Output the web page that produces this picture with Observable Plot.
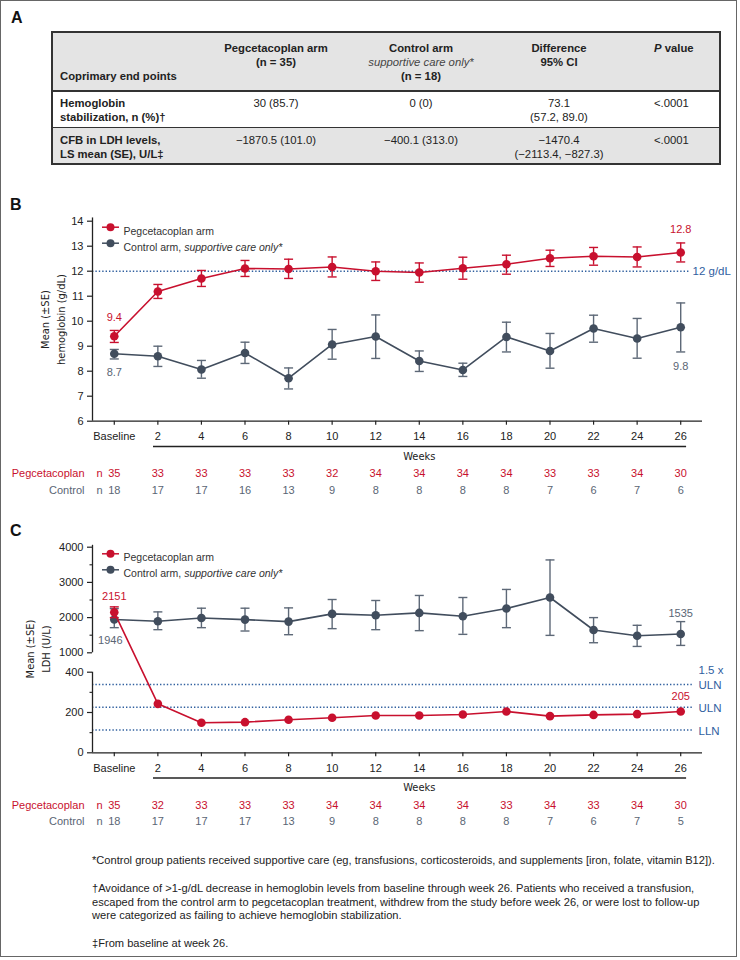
<!DOCTYPE html>
<html><head><meta charset="utf-8">
<script src="https://cdn.jsdelivr.net/npm/d3@7"></script>
<script src="https://cdn.jsdelivr.net/npm/@observablehq/plot@0.6"></script>
<style>
body{margin:0;background:#fff;}
#fig{position:relative;width:740px;height:960px;font-family:"Liberation Sans",Arial,Helvetica,sans-serif;color:#222;overflow:hidden;}
#border{position:absolute;left:0;top:0;width:735px;height:955px;border:1.5px solid #666;}
.abs{position:absolute;white-space:nowrap;}
.panel{position:absolute;font-weight:bold;font-size:16px;color:#111;}
.cell{position:absolute;white-space:nowrap;font-size:11.3px;line-height:14px;height:14px;}
.plot{position:absolute;left:0;}
.fn{position:absolute;left:92px;font-size:11.1px;line-height:13.7px;color:#222;white-space:nowrap;}
</style></head>
<body><div id="fig"><div id="border"></div></div>
<script>
// ---------- Table A ----------
const tableHeaders = [
  ["Coprimary end points"],
  ["Pegcetacoplan arm", "(n = 35)"],
  ["Control arm", "supportive care only*", "(n = 18)"],
  ["Difference", "95% CI"],
  ["P value"]
];
const tableRowLabels = [["Hemoglobin", "stabilization, n (%)†"], ["CFB in LDH levels,", "LS mean (SE), U/L‡"]];
const tableRowPeg = ["30 (85.7)", "−1870.5 (101.0)"];
const tableRowCtl = ["0 (0)", "−400.1 (313.0)"];
const tableRowDiff = [["73.1", "(57.2, 89.0)"], ["−1470.4", "(−2113.4, −827.3)"]];
const tableRowP = ["<.0001", "<.0001"];

// ---------- Chart data ----------
const weeks = [0, 2, 4, 6, 8, 10, 12, 14, 16, 18, 20, 22, 24, 26];
const weekLabels = ["Baseline", "2", "4", "6", "8", "10", "12", "14", "16", "18", "20", "22", "24", "26"];

// Panel B: hemoglobin (g/dL)
const hbPegMean = [9.4, 11.19, 11.71, 12.11, 12.09, 12.17, 12.0, 11.95, 12.12, 12.28, 12.52, 12.6, 12.57, 12.75];
const hbPegLow  = [9.15, 10.91, 11.39, 11.79, 11.71, 11.77, 11.63, 11.56, 11.68, 11.88, 12.19, 12.24, 12.17, 12.37];
const hbPegHigh = [9.63, 11.47, 12.03, 12.43, 12.48, 12.57, 12.37, 12.33, 12.56, 12.64, 12.84, 12.95, 12.97, 13.13];
const hbCtlMean = [8.7, 8.6, 8.07, 8.73, 7.72, 9.07, 9.39, 8.41, 8.05, 9.37, 8.81, 9.71, 9.31, 9.76];
const hbCtlLow  = [8.49, 8.19, 7.72, 8.31, 7.29, 8.48, 8.51, 7.99, 7.79, 8.77, 8.12, 9.16, 8.52, 8.77];
const hbCtlHigh = [8.87, 9.0, 8.43, 9.16, 8.13, 9.67, 10.25, 8.81, 8.32, 9.96, 9.51, 10.24, 10.11, 10.73];
const hbTicks = [6, 7, 8, 9, 10, 11, 12, 13, 14];
const hbTarget = [12];
const hbTargetLabel = "12 g/dL";
const hbAnnPeg = ["9.4", "12.8"];
const hbAnnCtl = ["8.7", "9.8"];
const nPegB = [35, 33, 33, 33, 33, 32, 34, 34, 34, 34, 33, 33, 34, 30];
const nCtlB = [18, 17, 17, 16, 13, 9, 8, 8, 8, 8, 7, 6, 7, 6];

// Panel C: LDH (U/L)
const ldhPegMean = [2151, 243, 149, 152, 164, 174, 185, 185, 190, 205, 182, 188, 192, 205];
const ldhPegLow  = [2000, null, null, null, null, null, null, null, null, null, null, null, null, null];
const ldhPegHigh = [2305, null, null, null, null, null, null, null, null, null, null, null, null, null];
const ldhCtlMean = [1946, 1895, 1990, 1943, 1886, 2105, 2067, 2133, 2038, 2257, 2571, 1648, 1486, 1535];
const ldhCtlLow  = [1714, 1657, 1714, 1619, 1514, 1686, 1657, 1629, 1524, 1714, 1495, 1286, 1181, 1210];
const ldhCtlHigh = [2257, 2162, 2267, 2267, 2276, 2514, 2486, 2629, 2571, 2800, 3638, 2000, 1781, 1886];
const ldhTicks = [0, 200, 400, 1000, 2000, 3000, 4000];
const ldhMinorTicks = [100, 300, 1500, 2500, 3500];
const ldhRefValues = [339, 226, 113];
const ldhRefLabels = ["1.5 x\nULN", "ULN", "LLN"];
const ldhAnnPeg = ["2151", "205"];
const ldhAnnCtl = ["1946", "1535"];
const nPegC = [35, 32, 33, 33, 33, 34, 34, 34, 34, 33, 34, 33, 34, 30];
const nCtlC = [18, 17, 17, 17, 13, 9, 8, 8, 8, 8, 7, 6, 7, 5];

const legendLabels = ["Pegcetacoplan arm", "Control arm, supportive care only*"];
const rowNames = ["Pegcetacoplan", "Control"];

const footnotes = [
  "*Control group patients received supportive care (eg, transfusions, corticosteroids, and supplements [iron, folate, vitamin B12]).",
  "†Avoidance of >1-g/dL decrease in hemoglobin levels from baseline through week 26. Patients who received a transfusion,<br>escaped from the control arm to pegcetacoplan treatment, withdrew from the study before week 26, or were lost to follow-up<br>were categorized as failing to achieve hemoglobin stabilization.",
  "‡From baseline at week 26."
];

// ---------- Styles ----------
const red = "#c8102e", slate = "#414d5d", slateBar = "#5d6877", slateText = "#5a6574", blue = "#30609f";
const font = "'Liberation Sans', Arial, Helvetica, sans-serif";
const narrow = "'Liberation Sans Narrow', 'Arial Narrow', 'DejaVu Sans Condensed', 'Liberation Sans', sans-serif";
const fig = document.getElementById("fig");

function addDiv(cls, left, top, html, style = "") {
  const d = document.createElement("div");
  d.className = cls;
  d.style.cssText = `left:${left}px;top:${top}px;` + style;
  d.innerHTML = html;
  fig.appendChild(d);
  return d;
}

// ---------- Draw table ----------
const T = {left: 52, right: 720, top: 32.3, head: 90.7, r1: 127.3, bottom: 164.3};
addDiv("abs", T.left, T.top, "", `width:${T.right - T.left}px;height:${T.head - T.top}px;background:#e4e4e4;`);
addDiv("abs", T.left, T.r1, "", `width:${T.right - T.left}px;height:${T.bottom - T.r1}px;background:#e4e4e4;`);
[[T.top, 2], [T.head, 2], [T.r1, 1.5], [T.bottom, 2]].forEach(([y, w]) =>
  addDiv("abs", T.left, y - w / 2, "", `width:${T.right - T.left}px;height:${w}px;background:#333;`));
[T.left, T.right].forEach(x => addDiv("abs", x - 1, T.top - 1, "", `width:2px;height:${T.bottom - T.top + 2}px;background:#333;`));

function cellText(text, cx, cy, opts = {}) {
  const anchor = opts.anchor || "middle";
  const tr = anchor === "middle" ? "translateX(-50%)" : "";
  addDiv("cell", cx, cy - 7, text, `transform:${tr};font-weight:${opts.bold ? "bold" : "normal"};font-style:${opts.italic ? "italic" : "normal"};color:${opts.color || "#222"};`);
}
const colX = [60, 276, 421, 559, 654];
const headY = [48, 62, 76];
cellText(tableHeaders[0][0], colX[0], headY[2], {anchor: "start", bold: true});
tableHeaders[1].forEach((t, i) => cellText(t, colX[1], headY[i], {bold: true}));
cellText(tableHeaders[2][0], colX[2], headY[0], {bold: true});
cellText(tableHeaders[2][1], colX[2], headY[1], {italic: true, color: "#444"});
cellText(tableHeaders[2][2], colX[2], headY[2], {bold: true});
tableHeaders[3].forEach((t, i) => cellText(t, colX[3], headY[i], {bold: true}));
cellText(tableHeaders[4][0].replace(/^P/, "<i>P</i>"), colX[4], headY[0], {anchor: "start", bold: true});
const rowY = [[102.5, 116.5], [139.5, 153.5]];
tableRowLabels.forEach((lines, r) => {
  lines.forEach((t, i) => cellText(t, colX[0], rowY[r][i], {anchor: "start", bold: true}));
  cellText(tableRowPeg[r], colX[1], rowY[r][0]);
  cellText(tableRowCtl[r], colX[2], rowY[r][0]);
  tableRowDiff[r].forEach((t, i) => cellText(t, colX[3], rowY[r][i]));
  cellText(tableRowP[r].replace("<", "&lt;"), colX[4], rowY[r][0], {anchor: "start"});
});

// ---------- Panel letters ----------
addDiv("panel", 11, 9, "A");
addDiv("panel", 10, 196, "B");
addDiv("panel", 10, 522, "C");

// ---------- Helpers ----------
const capSymbol = {draw(ctx) { ctx.moveTo(-4.5, 0); ctx.lineTo(4.5, 0); }};
const legendLine = {draw(ctx) { ctx.moveTo(-8.5, 0); ctx.lineTo(8.5, 0); }};
const tickSymbol = {draw(ctx) { ctx.moveTo(-3, 0); ctx.lineTo(0, 0); }};
function rows(mean, low, high) {
  return weeks.map((w, i) => ({week: w, mean: mean[i], low: low[i], high: high[i]}));
}
function seriesMarks(data, yf, color, barColor) {
  const bars = data.filter(d => d.low != null && d.high != null);
  return [
    Plot.ruleX(bars, {x: "week", y1: d => yf(d.low), y2: d => yf(d.high), stroke: barColor, strokeWidth: 1.4}),
    Plot.dot(bars, {x: "week", y: d => yf(d.low), symbol: capSymbol, stroke: barColor, fill: "none", strokeWidth: 1.4}),
    Plot.dot(bars, {x: "week", y: d => yf(d.high), symbol: capSymbol, stroke: barColor, fill: "none", strokeWidth: 1.4}),
    Plot.line(data, {x: "week", y: d => yf(d.mean), stroke: color, strokeWidth: 1.6}),
    Plot.dot(data, {x: "week", y: d => yf(d.mean), r: 4.3, fill: color, stroke: "none"})
  ];
}
function legendMarks(dy1, dy2) {
  const m = [];
  [[red, dy1, legendLabels[0]], [slate, dy2, legendLabels[1]]].forEach(([c, dy, t]) => {
    m.push(Plot.dot([t], {frameAnchor: "top-left", dx: 18, dy, symbol: legendLine, stroke: c, strokeWidth: 1.5, fill: "none"}));
    m.push(Plot.dot([t], {frameAnchor: "top-left", dx: 18, dy, r: 4, fill: c, stroke: "none"}));
    m.push(Plot.text([t], {frameAnchor: "top-left", dx: 31, dy, text: d => d, textAnchor: "start", fontSize: 10.5, fill: "#333"}));
  });
  return m;
}
function bottomMarks(yBase, nPeg, nCtl) {
  const mid = (weeks[1] + weeks[weeks.length - 1]) / 2;
  return [
    Plot.axisX(weeks, {tickFormat: d => weekLabels[weeks.indexOf(d)], tickSize: 4, tickPadding: 7, fontSize: 11, label: null, stroke: "#222", strokeWidth: 1.2}),
    Plot.ruleY([yBase], {x1: weeks[1] - 0.2, x2: weeks[weeks.length - 1] + 0.27, dy: 25.3, stroke: "#222", strokeWidth: 1.5}),
    Plot.text(["Weeks"], {x: () => mid, frameAnchor: "bottom", dy: 38.3, text: d => d, fontSize: 11, fontFamily: narrow, fill: "#222"}),
    Plot.text(weeks, {x: d => d, text: (d, i) => String(nPeg[i]), frameAnchor: "bottom", dy: 56, fill: red, fontSize: 11}),
    Plot.text(weeks, {x: d => d, text: (d, i) => String(nCtl[i]), frameAnchor: "bottom", dy: 72.6, fill: slateText, fontSize: 11}),
    Plot.text([rowNames[0]], {frameAnchor: "bottom-left", dx: -8, dy: 56, text: d => d, textAnchor: "end", fill: red, fontSize: 11}),
    Plot.text([rowNames[1]], {frameAnchor: "bottom-left", dx: -8, dy: 72.6, text: d => d, textAnchor: "end", fill: slateText, fontSize: 11}),
    Plot.text(["n"], {frameAnchor: "bottom-left", dx: 4, dy: 56, text: d => d, fill: red, fontSize: 11}),
    Plot.text(["n"], {frameAnchor: "bottom-left", dx: 4, dy: 72.6, text: d => d, fill: slateText, fontSize: 11})
  ];
}
function finish(svg, top) {
  d3.select(svg).selectAll("text").each(function () {
    if (this.textContent === legendLabels[1]) {
      this.innerHTML = 'Control arm, <tspan font-style="italic">supportive care only*</tspan>';
    }
  });
  svg.classList.add("plot");
  svg.style.top = top + "px";
  svg.style.position = "absolute";
  fig.appendChild(svg);
}

// ---------- Panel B ----------
const pegB = rows(hbPegMean, hbPegLow, hbPegHigh);
const ctlB = rows(hbCtlMean, hbCtlLow, hbCtlHigh);
const idY = v => v;
const last = weeks.length - 1;
const plotB = Plot.plot({
  width: 740, height: 325,
  marginLeft: 92, marginRight: 38, marginTop: 37.45, marginBottom: 84.3,
  x: {domain: [-1, 27], axis: null},
  y: {domain: [6, 14.13], axis: null},
  style: {fontFamily: font, fontSize: "11px", background: "transparent", overflow: "visible", color: "#222"},
  marks: [
    Plot.ruleY(hbTarget, {x1: -1, x2: 26.45, stroke: blue, strokeWidth: 1.5, strokeDasharray: "1.4 2"}),
    Plot.text(hbTarget, {y: d => d, frameAnchor: "right", dx: -10, text: () => hbTargetLabel, textAnchor: "start", fill: blue, fontSize: 11.5}),
    Plot.ruleX([-1], {stroke: "#222", strokeWidth: 1.3}),
    Plot.ruleY([6], {stroke: "#222", strokeWidth: 1.3}),
    Plot.axisY(hbTicks, {tickSize: 5, tickPadding: 4, fontSize: 11, label: null, stroke: "#222", strokeWidth: 1.2}),
    Plot.text(["Mean (±SE)\nhemoglobin (g/dL)"], {frameAnchor: "left", dx: -41, rotate: -90, textAnchor: "middle", lineAnchor: "middle", lineHeight: 1.45, text: d => d, fontSize: 11, fontFamily: narrow, fill: "#222"}),
    ...bottomMarks(6, nPegB, nCtlB),
    ...seriesMarks(ctlB, idY, slate, slateBar),
    ...seriesMarks(pegB, idY, red, red),
    ...legendMarks(9.25, 25.25),
    Plot.text([pegB[0]], {x: "week", y: "high", dy: -13, text: () => hbAnnPeg[0], fill: red, fontSize: 11}),
    Plot.text([pegB[last]], {x: "week", y: "high", dy: -13, text: () => hbAnnPeg[1], fill: red, fontSize: 11}),
    Plot.text([ctlB[0]], {x: "week", y: "low", dy: 14, text: () => hbAnnCtl[0], fill: slateText, fontSize: 11}),
    Plot.text([ctlB[last]], {x: "week", y: "low", dy: 15, text: () => hbAnnCtl[1], fill: slateText, fontSize: 11})
  ]
});
finish(plotB, 180);

// ---------- Panel C (broken y axis) ----------
const lowMax = 400, upMin = 1000, upMax = 4000, lowPx = 80.6, gapPx = 19.4, upPx = 105.6;
const brk = v => v <= lowMax ? v / lowMax * lowPx : lowPx + gapPx + (v - upMin) / (upMax - upMin) * upPx;
const pegC = rows(ldhPegMean, ldhPegLow, ldhPegHigh);
const ctlC = rows(ldhCtlMean, ldhCtlLow, ldhCtlHigh);
const majorPos = ldhTicks.map(brk);
const refData = ldhRefValues.map((v, i) => ({v, label: ldhRefLabels[i]}));
const plotC = Plot.plot({
  width: 740, height: 300,
  marginLeft: 92, marginRight: 38, marginTop: 4.8, marginBottom: 87.7,
  x: {domain: [-1, 27], axis: null},
  y: {domain: [0, 207.5], axis: null},
  style: {fontFamily: font, fontSize: "11px", background: "transparent", overflow: "visible", color: "#222"},
  marks: [
    Plot.ruleY(refData, {y: d => brk(d.v), x1: -1, x2: 26.6, stroke: blue, strokeWidth: 1.5, strokeDasharray: "1.4 2"}),
    Plot.text(refData, {y: d => brk(d.v), frameAnchor: "right", dx: -4, dy: 4.5, text: "label", textAnchor: "start", lineAnchor: "bottom", lineHeight: 1.28, fill: blue, fontSize: 11.5}),
    Plot.ruleX([-1], {y1: brk(0), y2: brk(lowMax), stroke: "#222", strokeWidth: 1.3}),
    Plot.ruleX([-1], {y1: brk(upMin), y2: 207.5, stroke: "#222", strokeWidth: 1.3}),
    Plot.ruleY([0], {stroke: "#222", strokeWidth: 1.3}),
    Plot.axisY(majorPos, {tickFormat: d => String(ldhTicks[majorPos.indexOf(d)]), tickSize: 5, tickPadding: 4, fontSize: 11, label: null, stroke: "#222", strokeWidth: 1.2}),
    Plot.dot(ldhMinorTicks, {y: d => brk(d), frameAnchor: "left", symbol: tickSymbol, stroke: "#222", strokeWidth: 1.1, fill: "none"}),
    Plot.text(["Mean (±SE)\nLDH (U/L)"], {frameAnchor: "left", dx: -56, rotate: -90, textAnchor: "middle", lineAnchor: "middle", lineHeight: 1.45, text: d => d, fontSize: 11, fontFamily: narrow, fill: "#222"}),
    ...bottomMarks(0, nPegC, nCtlC),
    ...seriesMarks(ctlC, brk, slate, slateBar),
    ...seriesMarks(pegC, brk, red, red),
    ...legendMarks(8.5, 24.5),
    Plot.text([pegC[0]], {x: "week", y: d => brk(d.high), dy: -10, text: () => ldhAnnPeg[0], fill: red, fontSize: 11}),
    Plot.text([pegC[last]], {x: "week", y: d => brk(d.mean), dy: -15, text: () => ldhAnnPeg[1], fill: red, fontSize: 11}),
    Plot.text([ctlC[0]], {x: "week", y: d => brk(d.low), dx: -4, dy: 13, text: () => ldhAnnCtl[0], fill: slateText, fontSize: 11}),
    Plot.text([ctlC[last]], {x: "week", y: d => brk(d.high), dy: -8.5, text: () => ldhAnnCtl[1], fill: slateText, fontSize: 11})
  ]
});
finish(plotC, 540);

// ---------- Footnotes ----------
addDiv("fn", 92, 854, footnotes[0]);
addDiv("fn", 92, 882, footnotes[1]);
addDiv("fn", 92, 937, footnotes[2]);
</script>
</body></html>
